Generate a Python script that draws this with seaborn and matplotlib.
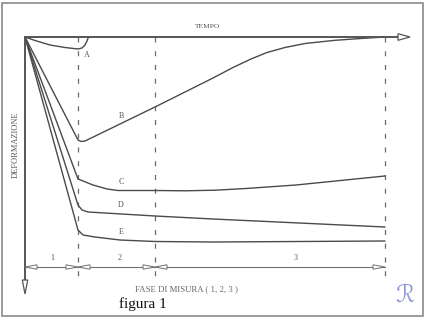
import matplotlib
matplotlib.use("Agg")
import matplotlib.pyplot as plt
from matplotlib.patches import Polygon, Rectangle
import seaborn as sns
import pandas as pd

# ---- data (time units, deformation units; deformation grows downward) ----
curve_names = ["A", "B", "C", "D", "E"]
t_A = [0, 1.0, 2.5, 4.0, 5.3, 5.7, 6.0, 6.2, 6.35]
d_A = [0, 0.35, 0.8, 1.05, 1.2, 1.1, 0.8, 0.4, 0.0]
t_B = [0, 5.3, 5.6, 6.0, 13.0, 18.8, 20.8, 22.6, 24.2, 26.0, 28.0, 31.0, 34.0, 36.0]
d_B = [0, 10.3, 10.45, 10.4, 7.0, 4.1, 3.05, 2.2, 1.55, 1.05, 0.65, 0.33, 0.12, 0.0]
t_C = [0, 5.3, 6.8, 8.2, 9.3, 13.0, 16.0, 19.0, 22.1, 27.1, 36.0]
d_C = [0, 14.2, 14.8, 15.2, 15.35, 15.35, 15.38, 15.32, 15.15, 14.8, 13.9]
t_D = [0, 5.3, 5.7, 6.3, 13.0, 18.8, 36.0]
d_D = [0, 16.8, 17.3, 17.5, 17.9, 18.2, 19.0]
t_E = [0, 5.3, 5.8, 7.0, 9.5, 13.0, 18.8, 36.0]
d_E = [0, 19.3, 19.8, 20.0, 20.3, 20.45, 20.5, 20.4]

label_pos_t = [6.2, 9.6, 9.6, 9.6, 9.6]
label_pos_d = [1.8, 7.9, 14.5, 16.8, 19.5]

phase_bounds = [0, 5.3, 13.0, 36.0]
phase_labels = ["1", "2", "3"]
phase_label_t = [2.7, 9.5, 27.1]

x_title = "TEMPO"
y_title = "DEFORMAZIONE"
phase_title = "FASE DI MISURA ( 1, 2, 3 )"
fig_caption = "figura 1"

# ---- build long-form table ----
ts = [t_A, t_B, t_C, t_D, t_E]
ds = [d_A, d_B, d_C, d_D, d_E]
rows = []
for name, tt, dd in zip(curve_names, ts, ds):
    for i, (a, b) in enumerate(zip(tt, dd)):
        rows.append({"curve": name, "t": a, "d": b, "order": i})
df = pd.DataFrame(rows)

sns.set_theme(style="white")
plt.rcParams["font.family"] = ["Liberation Serif", "DejaVu Serif"]

fig = plt.figure(figsize=(4.26, 3.18), dpi=100)
ax = fig.add_axes([0, 0, 1, 1])

line_col = "#4a4a4a"
gray = "#707070"

# dashed phase boundaries
for b in phase_bounds[1:]:
    ax.plot([b, b], [0, 24.6], color="#6a6a6a", lw=0.9,
            linestyle=(0, (4, 7)), zorder=1)

# curves
sns.lineplot(data=df, x="t", y="d", hue="curve", units="curve",
             palette=[line_col] * 5, sort=False, estimator=None,
             legend=False, lw=1.0, ax=ax, zorder=3)
ax.set_xlim(-2.5, 40.1)
ax.set_ylim(28.1, -3.7)
ax.axis("off")

for name, tx, dy in zip(curve_names, label_pos_t, label_pos_d):
    ax.text(tx, dy, name, fontsize=5.8, color="#555555", ha="center", va="center")

# time axis with open arrowhead
ax.plot([0, 37.3], [0, 0], color="#555555", lw=1.4, zorder=4)
ax.add_patch(Polygon([[37.3, -0.33], [38.5, 0], [37.3, 0.33]], closed=True,
                     facecolor="white", edgecolor="#555555", lw=0.9, zorder=5))
# deformation axis with open arrowhead
ax.plot([0, 0], [0, 24.3], color="#555555", lw=1.4, zorder=4)
ax.add_patch(Polygon([[-0.27, 24.3], [0, 25.7], [0.27, 24.3]], closed=True,
                     facecolor="white", edgecolor="#555555", lw=0.9, zorder=5))

ax.text(18.2, -1.1, x_title, fontsize=5.4, color="#555555", ha="center", va="center")
ax.text(-0.9, 10.8, y_title, fontsize=6.0, color="#555555", ha="center",
        va="center", rotation=90)

# phase line
yp = 23.0
ax.plot([0, phase_bounds[-1]], [yp, yp], color=gray, lw=0.8, zorder=4)
hl, hw = 1.2, 0.22
for i, b in enumerate(phase_bounds):
    if i < len(phase_bounds) - 1:
        ax.add_patch(Polygon([[b, yp], [b + hl, yp - hw], [b + hl, yp + hw]],
                             closed=True, facecolor="white", edgecolor=gray,
                             lw=0.7, zorder=5))
    if i > 0:
        ax.add_patch(Polygon([[b, yp], [b - hl, yp - hw], [b - hl, yp + hw]],
                             closed=True, facecolor="white", edgecolor=gray,
                             lw=0.7, zorder=5))
for lab, tx in zip(phase_labels, phase_label_t):
    ax.text(tx, yp - 0.9, lab, fontsize=5.8, color="#555555", ha="center", va="center")

ax.text(16.1, 25.2, phase_title, fontsize=6.3, color="#666666", ha="center", va="center")
ax.text(11.8, 26.7, fig_caption, fontsize=11, color="#111111", ha="center", va="center")

# watermark
ax.text(38.0, 25.8, "ℛ", fontsize=17, color="#8a96d8", ha="center", va="center",
        family=["DejaVu Serif", "DejaVu Sans"], style="italic")

# frame
fig.patches.append(Rectangle((2 / 426, 2 / 318), 421 / 426, 313 / 318,
                             transform=fig.transFigure, fill=False,
                             edgecolor="#8a8a8a", lw=1.2))

fig.savefig("out.png", dpi=100)
